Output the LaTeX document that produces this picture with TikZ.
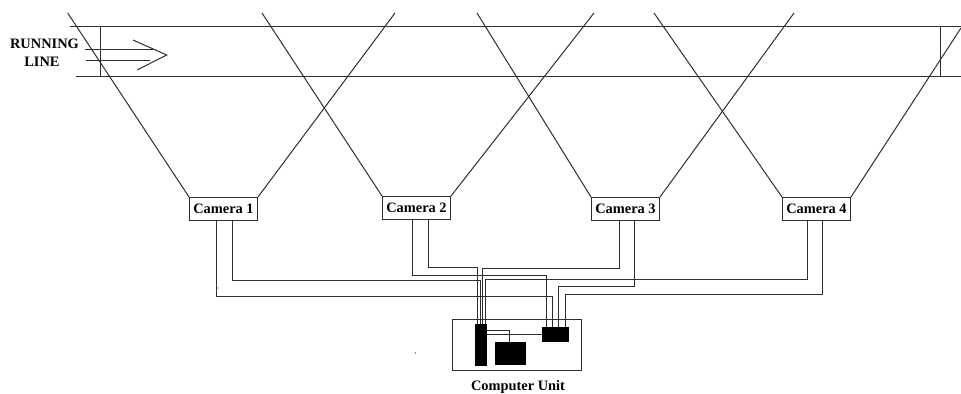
\documentclass[tikz,border=0pt]{standalone}
\usepackage{fontspec}
\setmainfont{Liberation Serif}
\definecolor{ink}{gray}{0.18}
\tikzset{
  px/.style={x=0.75pt,y=-0.75pt},
  thin line/.style={draw=ink,line width=0.75pt},
  wire/.style={draw=ink,line width=0.75pt},
  camera/.style={draw=ink,line width=0.75pt,fill=white,inner sep=0pt,minimum width=51pt,minimum height=17.25pt,font=\bfseries\fontsize{10.8}{12}\selectfont},
  solid block/.style={fill=black,inner sep=0pt},
  caption/.style={font=\bfseries\fontsize{10.8}{12}\selectfont,inner sep=0pt,align=center}
}
\begin{document}
\begin{tikzpicture}[px]
\useasboundingbox (0,0) rectangle (961,393);
% road
\coordinate (tl) at (70,26.5); \coordinate (tr) at (961,26.5);
\coordinate (bl) at (76,76.5); \coordinate (br) at (961,76.5);
\draw[thin line] (tl) -- (tr);
\draw[thin line] (bl) -- (br);
\coordinate (v1t) at (100.5,26.5); \coordinate (v1b) at (100.5,76.5);
\coordinate (v2t) at (940.5,26.5); \coordinate (v2b) at (940.5,76.5);
\draw[thin line] (v1t) -- (v1b);
\draw[thin line] (v2t) -- (v2b);
% arrow
\coordinate (a1) at (85,49.5); \coordinate (a1e) at (153,49.5);
\coordinate (a2) at (86,60.5); \coordinate (a2e) at (150,60.5);
\coordinate (h1) at (133,40); \coordinate (h2) at (166.7,55); \coordinate (h3) at (137,70);
\draw[thin line] (a1) -- (a1e);
\draw[thin line] (a2) -- (a2e);
\draw[thin line] (h1) -- (h2) -- (h3);
\node[caption] (running) at (44.5,44) {RUNNING};
\node[caption] (linelabel) at (42,62) {LINE};
% cameras
\node[camera] (cam1) at (223.5,209) {Camera 1};
\node[camera] (cam2) at (416.5,208) {Camera 2};
\node[camera] (cam3) at (625.5,209) {Camera 3};
\node[camera] (cam4) at (816.5,209) {Camera 4};
% fields of view
\coordinate (f1l) at (67.7,13); \coordinate (f1r) at (395,13);
\coordinate (f2l) at (262,13); \coordinate (f2r) at (594,13);
\coordinate (f3l) at (477,13); \coordinate (f3r) at (794,13);
\coordinate (f4l) at (654,13); \coordinate (f4r) at (961,28);
\draw[thin line] (f1l) -- (cam1.north west);
\draw[thin line] (f1r) -- (cam1.north east);
\draw[thin line] (f2l) -- (cam2.north west);
\draw[thin line] (f2r) -- (cam2.north east);
\draw[thin line] (f3l) -- (cam3.north west);
\draw[thin line] (f3r) -- (cam3.north east);
\draw[thin line] (f4l) -- (cam4.north west);
\draw[thin line] (f4r) -- (cam4.north east);
% computer unit
\node[draw=ink,line width=0.75pt,minimum width=96.75pt,minimum height=38.25pt,inner sep=0pt] (comp) at (517,345) {};
\node[solid block,minimum width=9pt,minimum height=31.5pt] (bus) at (481,345) {};
\node[solid block,minimum width=23.25pt,minimum height=17.25pt] (disk) at (510.5,353.5) {};
\node[solid block,minimum width=20.25pt,minimum height=11.25pt] (hub) at (555.5,334.5) {};
\node[caption] (complabel) at (518,387) {Computer Unit};
% wires
\draw[wire] (216.5,0 |- cam1.south) -- (216.5,296.5) -| (552.5,0 |- hub.north);
\draw[wire] (232.5,0 |- cam1.south) -- (232.5,280.5) -| (480.5,0 |- bus.north);
\draw[wire] (412.5,0 |- cam2.south) -- (412.5,275.5) -| (546.5,0 |- hub.north);
\draw[wire] (428.5,0 |- cam2.south) -- (428.5,267.5) -| (477.5,0 |- bus.north);
\draw[wire] (619.5,0 |- cam3.south) -- (619.5,268.5) -| (482.5,0 |- bus.north);
\draw[wire] (634.5,0 |- cam3.south) -- (634.5,286.5) -| (558.5,0 |- hub.north);
\draw[wire] (807.5,0 |- cam4.south) -- (807.5,279.5) -| (485.5,0 |- bus.north);
\draw[wire] (822.5,0 |- cam4.south) -- (822.5,294.5) -| (565.5,0 |- hub.north);
\draw[wire] (bus.east |- 0,330.5) -| (509.5,0 |- disk.north);
\draw[wire] (bus.east |- 0,334.5) -- (hub.west |- 0,334.5);
% specks
\fill[ink] (415.5,353) circle (0.6);
\fill[ink] (218,288) circle (0.6);
\end{tikzpicture}
\end{document}
